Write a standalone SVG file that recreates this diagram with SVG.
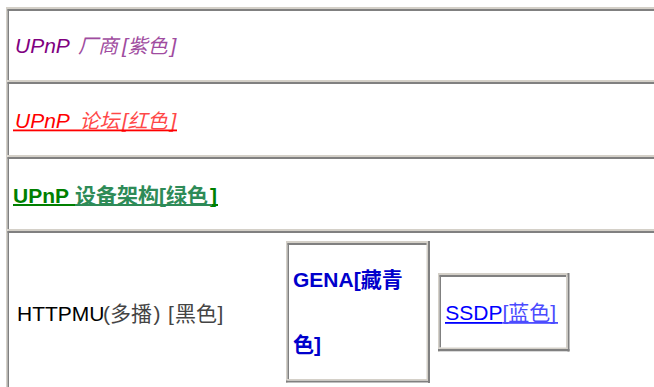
<svg xmlns="http://www.w3.org/2000/svg" width="654" height="387" viewBox="0 0 654 387">
<style>
.lt{fill:#d4d0c8}
.dk{fill:#808080}
.t{font-family:"Liberation Sans","Noto Sans CJK SC",sans-serif;font-size:21px}
.c{font-family:"Noto Sans CJK SC","Liberation Sans",sans-serif}
.s{font-size:20px}
.b{font-weight:bold}
.i{font-style:italic}
</style>
<rect width="654" height="387" fill="#ffffff"/>
<g id="table">
<rect class="lt" x="6" y="7" width="648" height="2"/>
<rect class="lt" x="6" y="7" width="1.5" height="380"/>
</g>
<g id="row1">
<rect class="dk" x="7.5" y="9" width="646.5" height="2"/>
<rect class="dk" x="7.5" y="9" width="1.5" height="71"/>
<rect class="lt" x="7.5" y="80" width="646.5" height="2"/>
<text class="t i" x="15" y="53" fill="#800080">UPnP<tspan x="78" class="c s" fill="#a04ca0">厂商</tspan><tspan x="122" fill="#a04ca0">[</tspan><tspan x="127.5" class="c s" fill="#a04ca0">紫色</tspan><tspan x="170.5" fill="#a04ca0">]</tspan></text>
</g>
<g id="row2">
<rect class="dk" x="7.5" y="82" width="646.5" height="2"/>
<rect class="dk" x="7.5" y="82" width="1.5" height="73"/>
<rect class="lt" x="7.5" y="155" width="646.5" height="2"/>
<text class="t i" x="15" y="128" fill="#ff0000">UPnP<tspan x="79.5" class="c s" fill="#ff4848">论坛</tspan><tspan x="122" fill="#ff4848">[</tspan><tspan x="127.5" class="c s" fill="#ff4848">红色</tspan><tspan x="170.5" fill="#ff4848">]</tspan></text>
<rect x="13" y="129.5" width="164" height="1.8" fill="#ff0000"/>
</g>
<g id="row3">
<rect class="dk" x="7.5" y="157" width="646.5" height="2"/>
<rect class="dk" x="7.5" y="157" width="1.5" height="72"/>
<rect class="lt" x="7.5" y="229" width="646.5" height="2"/>
<text class="t b" x="13" y="203" fill="#008000">UPnP<tspan x="75" class="c" fill="#2e8b57">设备架构</tspan><tspan x="159" fill="#2e8b57">[</tspan><tspan x="166" class="c" fill="#2e8b57">绿色</tspan><tspan x="210" fill="#008000">]</tspan></text>
<rect x="13" y="204" width="62" height="2" fill="#008000"/>
<rect x="75" y="204" width="137" height="2" fill="#2e8b57"/>
<rect x="212" y="204" width="6" height="2" fill="#008000"/>
</g>
<g id="row4">
<rect class="dk" x="7.5" y="231" width="646.5" height="2"/>
<rect class="dk" x="7.5" y="231" width="1.5" height="156"/>
<text class="t" x="17" y="321" fill="#000000">HTTPMU<tspan x="103" fill="#444">(</tspan><tspan x="110" class="c" fill="#444">多播</tspan><tspan x="153.5" fill="#444">)</tspan><tspan x="168" fill="#444">[</tspan><tspan x="175" class="c" fill="#444">黑色</tspan><tspan x="217.5" fill="#444">]</tspan></text>
</g>
<g id="gena">
<rect x="286" y="241" width="144" height="142" fill="#ffffff"/>
<rect class="lt" x="286" y="241" width="144" height="2"/>
<rect class="lt" x="286" y="241" width="1.5" height="142"/>
<rect class="dk" x="428" y="241" width="2" height="142"/>
<rect class="dk" x="286" y="380.5" width="144" height="2"/>
<rect class="dk" x="287.5" y="243" width="140.5" height="2"/>
<rect class="dk" x="287.5" y="243" width="1.5" height="136"/>
<rect class="lt" x="426.5" y="243" width="1.5" height="137.5"/>
<rect class="lt" x="287.5" y="379" width="140.5" height="1.5"/>
<text class="t b" x="293" y="287" fill="#0000cc">GENA[<tspan class="c">藏青</tspan></text>
<text class="t b" x="293" y="352" fill="#0000cc"><tspan class="c">色</tspan>]</text>
</g>
<g id="ssdp">
<rect x="438" y="273" width="131" height="78.5" fill="#ffffff"/>
<rect class="lt" x="438" y="273" width="131" height="2"/>
<rect class="lt" x="438" y="273" width="1.5" height="78.5"/>
<rect class="dk" x="567.5" y="273" width="2" height="78.5"/>
<rect class="dk" x="438" y="349" width="131.5" height="2.3"/>
<rect class="dk" x="439.5" y="275" width="128" height="2"/>
<rect class="dk" x="439.5" y="275" width="1.5" height="72.5"/>
<rect class="lt" x="566" y="275" width="1.5" height="74"/>
<rect class="lt" x="439.5" y="347.5" width="128" height="1.5"/>
<text class="t" x="445.3" y="320" fill="#0000ff">SSDP<tspan fill="#4b4bff">[</tspan><tspan class="c" fill="#4b4bff">蓝色</tspan><tspan fill="#4b4bff">]</tspan></text>
<rect x="445" y="322" width="57.5" height="1.8" fill="#0000ff"/>
<rect x="502.5" y="322" width="55.5" height="1.8" fill="#4b4bff"/>
</g>
<g id="connectors"></g>
</svg>
